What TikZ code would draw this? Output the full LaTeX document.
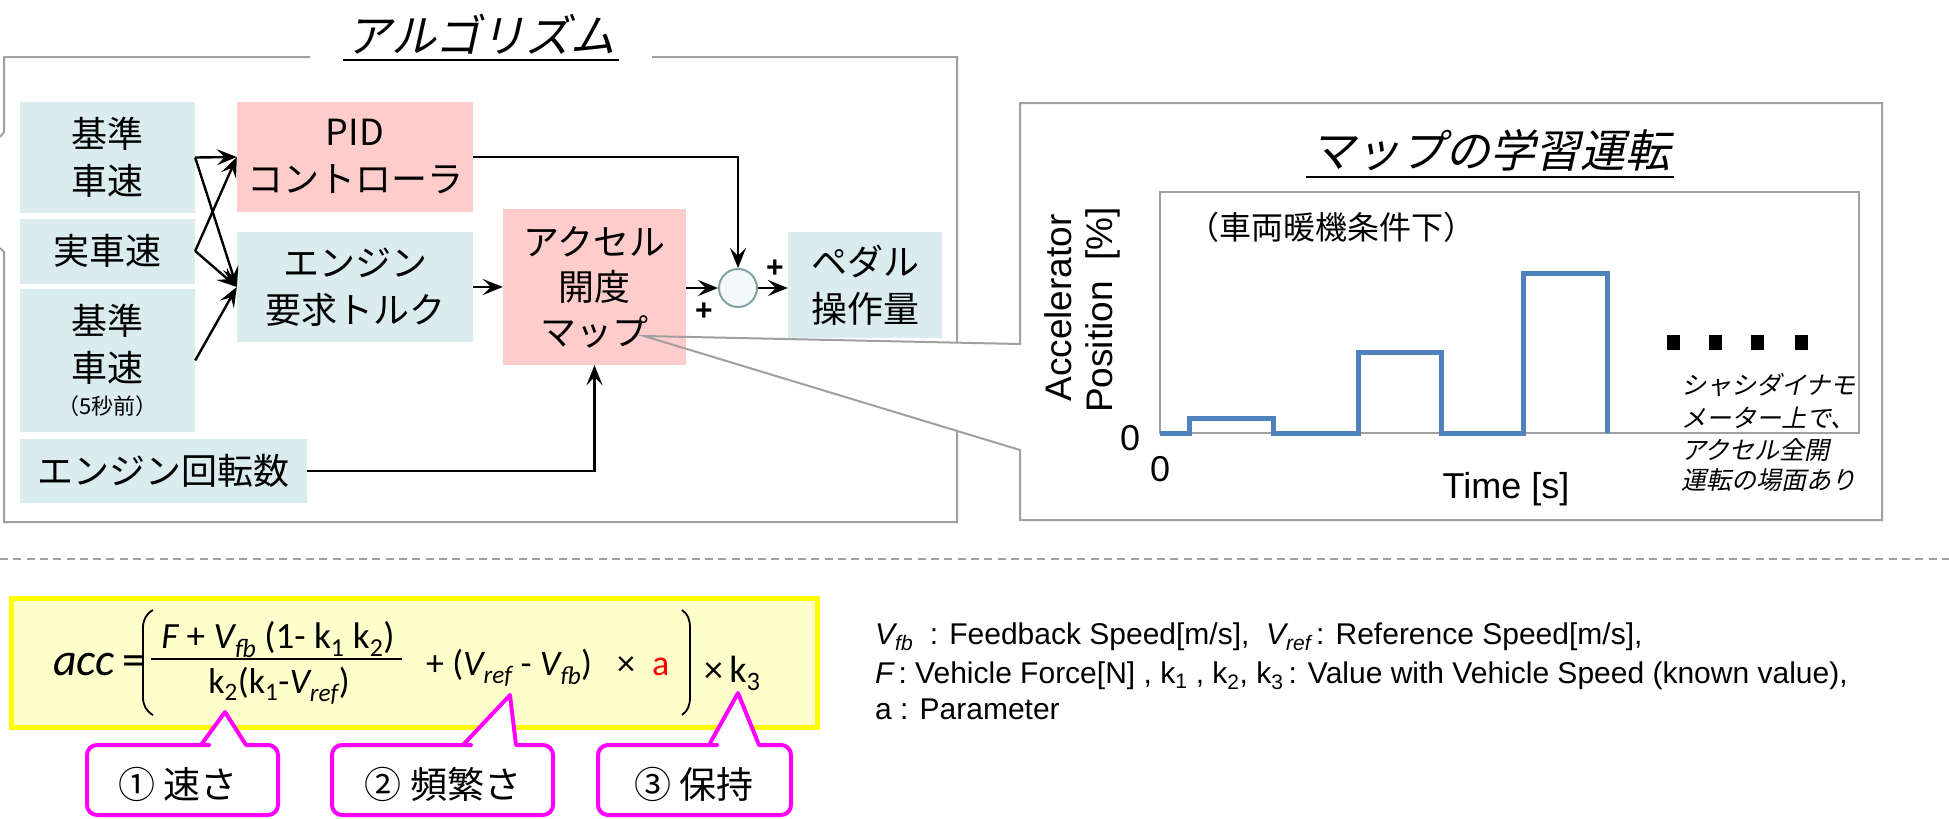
\documentclass[tikz,border=0pt]{standalone}
\usepackage{fontspec}
\setmainfont{Noto Sans CJK JP}
\newfontfamily\jpit{Noto Sans CJK JP}[FakeSlant=0.22]
\newfontfamily\arial{Liberation Sans}
\newfontfamily\calib{Carlito}
\usetikzlibrary{arrows.meta,calc}
\definecolor{boxblue}{HTML}{DAECEE}
\definecolor{boxpink}{HTML}{FFCCCC}
\definecolor{framegray}{HTML}{A0A0A0}
\definecolor{plotblue}{HTML}{4F81BD}
\definecolor{callmag}{HTML}{FF00FF}
\definecolor{fyellow}{HTML}{FFFF00}
\definecolor{fyfill}{HTML}{FFFFCC}
\definecolor{sumfill}{HTML}{F3F8F8}
\definecolor{sumdraw}{HTML}{7FA3A6}
\newcommand\fs[2]{\fontsize{#1}{#2}\selectfont}
\newcommand\sbs[1]{\textsubscript{#1}}
\tikzset{
  bbox/.style={fill=boxblue, inner sep=0pt, align=center, font=\fs{36}{47}},
  pbox/.style={fill=boxpink, inner sep=0pt, align=center, font=\fs{36}{47}},
  arr/.style={-{Stealth[length=20pt,width=16pt,inset=8pt]}, line width=2.4pt},
  grayframe/.style={draw=framegray, line width=2pt},
  ul/.style={line width=2.5pt},
  callout/.style={draw=callmag, line width=4pt, fill=white, line join=round},
  plotline/.style={draw=plotblue, line width=5pt},
}
\begin{document}
\begin{tikzpicture}[x=1pt,y=-1pt]
\useasboundingbox (0,0) rectangle (1949,819);

% ---------- algorithm frame ----------
\draw[grayframe] (310,57) -- (4,57) -- (4,132) -- (0,137);
\draw[grayframe] (0,248) -- (4,252) -- (4,522) -- (957,522) -- (957,57) -- (652,57);
\node[font=\jpit\fs{45}{45}, anchor=base] (t1) at (481,52) {アルゴリズム};
\draw[ul] ($(t1.base west)+(0,8)$) -- ($(t1.base east)+(0,8)$);

% white body of the right callout (covers the frame edge)
\fill[white] (1020,103) -- (1882,103) -- (1882,520) -- (1020,520) -- (1020,450) -- (644,336) -- (1020,344) -- cycle;

% ---------- blocks ----------
\node[bbox, minimum width=175, minimum height=111] (kj1) at (107.5,157.5) {基準\\車速};
\node[pbox, minimum width=236, minimum height=110] (pid) at (355,157) {PID\\コントローラ};
\node[bbox, minimum width=175, minimum height=65] (jss) at (107.5,251) {実車速};
\node[bbox, minimum width=236, minimum height=110] (eng) at (355,287) {エンジン\\要求トルク};
\node[pbox, minimum width=183, minimum height=156, font=\fs{36}{45}] (accm) at (594.5,287) {アクセル\\開度\\マップ};
\node[bbox, minimum width=175, minimum height=143] (kj2) at (107.5,360.5) {基準\\車速\\[-14pt]{\fs{22}{26}（5秒前）}};
\node[bbox, minimum width=287, minimum height=64] (rpm) at (163.5,471) {エンジン回転数};
\node[bbox, minimum width=154, minimum height=106] (pedal) at (865,285) {ペダル\\操作量};
\node[circle, draw=sumdraw, fill=sumfill, line width=2pt, minimum size=38pt, inner sep=0pt] (sum) at (738,288) {};
\node[font=\arial\bfseries\fs{30}{30}] (plusa) at (775,269) {+};
\node[font=\arial\bfseries\fs{30}{30}] (plusb) at (704,312) {+};

% ---------- connectors ----------
\draw[arr] (kj1.east) -- (pid.west);
\draw[arr] (kj1.east) -- (eng.west);
\draw[arr] (jss.east) -- (pid.west);
\draw[arr] (jss.east) -- (eng.west);
\draw[arr] (kj2.east) -- (eng.west);
\draw[arr] (eng.east) -- (accm.west);
\draw[arr] (accm.east |- sum.west) -- (sum.west);
\draw[arr] (sum.east) -- (sum.east -| pedal.west);
\draw[arr] (pid.east) -| (sum.north);
\draw[arr] (rpm.east) -| (accm.south);

% ---------- right callout outline ----------
\draw[grayframe, line join=miter] (1020,103) -- (1882,103) -- (1882,520) -- (1020,520) -- (1020,450) -- (644,336) -- (1020,344) -- cycle;
\node[font=\jpit\fs{45}{45}, anchor=base] (t2) at (1490,167) {マップの学習運転};
\draw[ul] ($(t2.base west)+(0,10)$) -- ($(t2.base east)+(0,10)$);

% plot
\draw[grayframe] (1160,192) rectangle (1859,433);
\draw[plotline] (1160,433) -- (1189,433) -- (1189,418) -- (1273,418) -- (1273,433) -- (1358,433) -- (1358,352) -- (1441,352) -- (1441,433) -- (1523,433) -- (1523,273) -- (1607,273) -- (1607,433);
\node[font=\fs{32}{32}, anchor=base west, inner sep=0pt] (cond) at (1187,239) {（車両暖機条件下）};
\node[font=\arial\fs{37}{37}, rotate=90] (ylab1) at (1058,308) {Accelerator};
\node[font=\arial\fs{37}{37}, rotate=90] (ylab2) at (1103,310) {Position\ \ [\%]};
\node[font=\arial\fs{36}{36}, anchor=base] (y0) at (1130,450) {0};
\node[font=\arial\fs{36}{36}, anchor=base] (x0) at (1160,481) {0};
\node[font=\arial\fs{36}{36}, anchor=base] (tlab) at (1506,498) {Time [s]};
\foreach \cx in {1673,1715,1757,1801} \fill (\cx-6.5,334.5) rectangle ++(13,15);
\node[font=\jpit\fs{25}{25}, anchor=base west, inner sep=0pt] (n1) at (1681,394) {シャシダイナモ};
\node[font=\jpit\fs{25}{25}, anchor=base west, inner sep=0pt] (n2) at (1681,427) {メーター上で、};
\node[font=\jpit\fs{25}{25}, anchor=base west, inner sep=0pt] (n3) at (1681,459) {アクセル全開};
\node[font=\jpit\fs{25}{25}, anchor=base west, inner sep=0pt] (n4) at (1681,489) {運転の場面あり};

% ---------- separator ----------
\draw[framegray, line width=2.5pt, dash pattern=on 8pt off 5.3pt] (0,559) -- (1949,559);

% ---------- formula ----------
\draw[draw=fyellow, fill=fyfill, line width=5pt] (11,598) rectangle (817,727);
\node[anchor=base west, font=\calib\fs{46}{46}, inner sep=0pt] (facc) at (53,675) {\itshape acc\upshape\,=};
\draw[line width=1.8pt] (153,610) .. controls (146,614) and (143,620) .. (143,628) -- (143,697) .. controls (143,705) and (146,711) .. (153,715);
\draw[line width=1.8pt] (682,610) .. controls (688,614) and (690,620) .. (690,628) -- (690,697) .. controls (690,705) and (688,711) .. (682,715);
\draw[line width=1.6pt] (151,659) -- (402,659);
\node[anchor=base, font=\calib\fs{37}{37}, inner sep=0pt] (fnum) at (278,648) {\itshape F\upshape\ +\ \itshape V\sbs{fb}\upshape\ (1-\ k\sbs{1}\ k\sbs{2})};
\node[anchor=base, font=\calib\fs{36}{36}, inner sep=0pt] (fden) at (279,693) {k\sbs{2}(k\sbs{1}-\itshape V\sbs{ref}\upshape)};
\node[anchor=base west, font=\calib\fs{36}{36}, inner sep=0pt] (fmid) at (426,675) {+\ (\itshape V\sbs{ref}\upshape\ -\ \itshape V\sbs{fb}\upshape)\hspace{25pt}×\hspace{17pt}\textcolor{red}{a}};
\node[anchor=base west, font=\calib\fs{38}{38}, inner sep=0pt] (fk3) at (704,682) {×\,k\sbs{3}};

% ---------- callouts ----------
\draw[callout] (87,780) [rounded corners=10pt] -- (87,745) -- (199,745) [sharp corners] -- (201,745) -- (225,712) -- (246,745) -- (248,745) [rounded corners=10pt] -- (278,745) -- (278,815) -- (87,815) -- cycle;
\draw[callout] (332,780) [rounded corners=10pt] -- (332,745) -- (461,745) [sharp corners] -- (463,745) -- (510,695) -- (516,745) -- (518,745) [rounded corners=10pt] -- (553,745) -- (553,815) -- (332,815) -- cycle;
\draw[callout] (598,780) [rounded corners=10pt] -- (598,745) -- (707,745) [sharp corners] -- (709,745) -- (738,693) -- (759,745) -- (761,745) [rounded corners=10pt] -- (791,745) -- (791,815) -- (598,815) -- cycle;
\node[font=\fs{37}{37}, anchor=base] (c1) at (178,798) {① 速さ};
\node[font=\fs{37}{37}, anchor=base] (c2) at (443,798) {② 頻繁さ};
\node[font=\fs{37}{37}, anchor=base] (c3) at (694,798) {③ 保持};

% ---------- legend ----------
\node[anchor=base west, font=\arial\fs{30}{30}, inner sep=0pt] (leg1) at (875,644) {\itshape V\sbs{fb}\upshape\ \ : Feedback Speed[m/s],\ \ \itshape V\sbs{ref}\upshape\,: Reference Speed[m/s],};
\node[anchor=base west, font=\arial\fs{30}{30}, inner sep=0pt] (leg2) at (875,683) {\itshape F\upshape\,: Vehicle Force[N] , k\sbs{1} , k\sbs{2}, k\sbs{3}\,: Value with Vehicle Speed (known value),};
\node[anchor=base west, font=\arial\fs{30}{30}, inner sep=0pt] (leg3) at (875,719) {a : Parameter};
\end{tikzpicture}
\end{document}
